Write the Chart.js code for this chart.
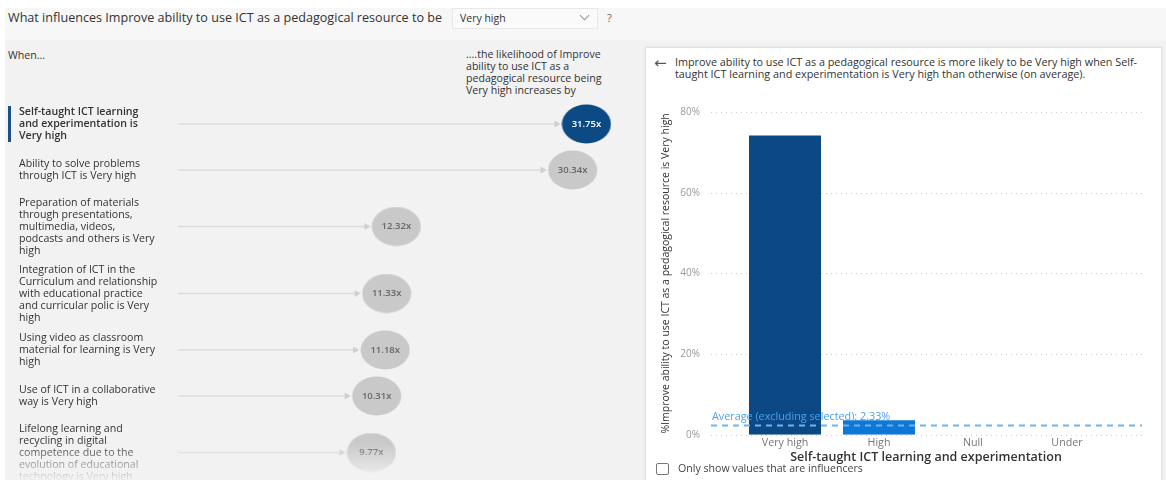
<!DOCTYPE html>
<html>
<head>
<meta charset="utf-8">
<script src="https://cdn.jsdelivr.net/npm/chart.js@4.4.1/dist/chart.umd.min.js"></script>
<style>
  body { margin: 0; width: 1166px; height: 480px; overflow: hidden; background: #fff; position: relative;
         font-family: "Open Sans", "Noto Sans", sans-serif; color: #333; }
  .abs { position: absolute; }
  #frame { left: 5px; top: 8px; right: 0; bottom: 0; background: #f2f2f2; }
  #header { left: 5px; top: 8px; right: 0; height: 32px; background: #f7f7f7; }
  #title { left: 8px; top: 9px; font-size: 12.6px; white-space: nowrap; }
  #dropdown { left: 452px; top: 8px; width: 144px; height: 19px; background: #fafafa; border: 1px solid #e8e8e8; }
  #dropdown span { position: absolute; left: 7px; top: 2px; font-size: 10.5px; }
  #dropdown i { position: absolute; left: 128px; top: 3px; width: 6px; height: 6px; border-right: 1px solid #999; border-bottom: 1px solid #999; transform: rotate(45deg); }
  #help { left: 607px; top: 10px; font-size: 11px; color: #666; }
  #when { left: 8px; top: 48px; font-size: 10.6px; }
  #likely { left: 466px; top: 48px; font-size: 10.6px; line-height: 12px; }
  #fade { left: 8px; top: 442px; width: 632px; height: 38px;
          background: linear-gradient(rgba(242,242,242,0), rgba(242,242,242,0.95)); }
  #card { left: 645px; top: 47px; width: 515px; height: 440px; background: #fff; border: 1px solid #e2e2e2;
          box-shadow: 0 0 3px rgba(0,0,0,0.08); }
  #back { left: 654px; top: 54px; font-size: 15px; color: #555; font-family: "DejaVu Sans", sans-serif; }
  #explain { left: 675px; top: 56px; font-size: 10.8px; line-height: 12px; white-space: nowrap; }
  #check { left: 656px; top: 463px; width: 11px; height: 10px; border: 1.5px solid #777; border-radius: 2px; }
  #checkText { left: 678px; top: 461px; font-size: 10.6px; color: #444; }
  #leftChart { left: 8px; top: 101px; }
  #rightChart { left: 650px; top: 96px; }
</style>
</head>
<body>
<div class="abs" id="frame"></div>
<div class="abs" id="header"></div>
<div class="abs" id="title">What influences Improve ability to use ICT as a pedagogical resource to be</div>
<div class="abs" id="dropdown"><span>Very high</span><i></i></div>
<div class="abs" id="help">?</div>
<div class="abs" id="when">When...</div>
<div class="abs" id="likely">....the likelihood of Improve<br>ability to use ICT as a<br>pedagogical resource being<br>Very high increases by</div>
<canvas class="abs" id="leftChart" width="632" height="379"></canvas>
<div class="abs" id="fade"></div>
<div class="abs" id="card"></div>
<div class="abs" id="back">&#8592;</div>
<div class="abs" id="explain">Improve ability to use ICT as a pedagogical resource is more likely to be Very high when Self-<br>taught ICT learning and experimentation is Very high than otherwise (on average).</div>
<canvas class="abs" id="rightChart" width="510" height="374"></canvas>
<div class="abs" id="check"></div>
<div class="abs" id="checkText">Only show values that are influencers</div>

<script>
// influencers (label lines) and how much each one multiplies the likelihood
const influencers = [
    ['Self-taught ICT learning', 'and experimentation is', 'Very high'],
    ['Ability to solve problems', 'through ICT is Very high'],
    ['Preparation of materials', 'through presentations,', 'multimedia, videos,', 'podcasts and others is Very', 'high'],
    ['Integration of ICT in the', 'Curriculum and relationship', 'with educational practice', 'and curricular polic is Very', 'high'],
    ['Using video as classroom', 'material for learning is Very', 'high'],
    ['Use of ICT in a collaborative', 'way is Very high'],
    ['Lifelong learning and', 'recycling in digital', 'competence due to the', 'evolution of educational', 'technology is Very high']
];
const multipliers = [31.75, 30.34, 12.32, 11.33, 11.18, 10.31, 9.77];

// detail chart for the selected influencer
const valueLevels = ['Very high', 'High', 'Null', 'Under'];
const pctVeryHigh = [74.2, 3.6, 0, 0];
const averageExcluded = 2.33;
const pctTicks = [0, 20, 40, 60, 80];

Chart.defaults.font.family = '"Open Sans", "Noto Sans", sans-serif';

// each row is as tall as its label needs
const lineH = 12;
const rowH = influencers.map(l => Math.max(46, l.length * lineH + 7));
const rowY = [];
let acc = 0;
rowH.forEach(h => { rowY.push(acc + h / 2); acc += h; });

// ellipse markers (the visual is stretched sideways)
function ellipse(color) {
    const c = document.createElement('canvas');
    c.width = 50; c.height = 40;
    const g = c.getContext('2d');
    g.fillStyle = color;
    g.beginPath();
    g.ellipse(25, 20, 24.5, 19.5, 0, 0, Math.PI * 2);
    g.fill();
    return c;
}
const blueDot = ellipse('#0c4a86');
const grayDot = ellipse('#c9c9c9');

// no extra room for first/last tick labels
const noLabelPadding = axis => { axis.paddingTop = 0; axis.paddingBottom = 0; };

const influencerDecor = {
    id: 'influencerDecor',
    beforeDatasetsDraw(chart) {
        const {ctx, chartArea, scales} = chart;
        const meta = chart.getDatasetMeta(0);
        ctx.save();
        meta.data.forEach(pt => {
            const end = pt.x - 25;
            ctx.strokeStyle = '#dcdcdc';
            ctx.lineWidth = 1.5;
            ctx.beginPath();
            ctx.moveTo(chartArea.left, pt.y);
            ctx.lineTo(end - 6, pt.y);
            ctx.stroke();
            ctx.fillStyle = '#cfcfcf';
            ctx.beginPath();
            ctx.moveTo(end - 7, pt.y - 3.5);
            ctx.lineTo(end - 1, pt.y);
            ctx.lineTo(end - 7, pt.y + 3.5);
            ctx.fill();
        });
        // selected row marker
        const y0 = scales.y.getPixelForValue(rowY[0]);
        ctx.fillStyle = '#1b4f8a';
        ctx.fillRect(0, y0 - 18, 3, 36);
        ctx.restore();
    },
    afterDatasetsDraw(chart) {
        const {ctx} = chart;
        const meta = chart.getDatasetMeta(0);
        ctx.save();
        ctx.font = '600 9.5px "Open Sans", sans-serif';
        ctx.textAlign = 'center';
        ctx.textBaseline = 'middle';
        meta.data.forEach((pt, i) => {
            ctx.fillStyle = i === 0 ? '#ffffff' : '#666666';
            ctx.fillText(multipliers[i].toFixed(2) + 'x', pt.x, pt.y);
        });
        ctx.restore();
    }
};

new Chart(document.getElementById('leftChart'), {
    type: 'scatter',
    data: {
        datasets: [{
            data: multipliers.map((v, i) => ({x: v, y: rowY[i]})),
            pointStyle: multipliers.map((v, i) => i === 0 ? blueDot : grayDot),
            pointRadius: 22,
            clip: false
        }]
    },
    options: {
        responsive: false,
        animation: false,
        events: [],
        layout: {autoPadding: false, padding: {left: 11, right: 12, top: 0, bottom: 0}},
        plugins: {legend: {display: false}, tooltip: {enabled: false}},
        scales: {
            x: {type: 'linear', min: -10, max: 36, display: false},
            y: {
                type: 'linear',
                reverse: true,
                min: 0,
                max: 379,
                afterBuildTicks: axis => { axis.ticks = rowY.map(v => ({value: v})); },
                afterFit: axis => { axis.width = 159; noLabelPadding(axis); },
                grid: {display: false, drawTicks: false},
                border: {display: false},
                ticks: {
                    autoSkip: false,
                    crossAlign: 'far',
                    padding: 0,
                    color: '#333',
                    font: c => ({size: 10.6, lineHeight: 12 / 10.6, weight: c.index === 0 ? '600' : 'normal'}),
                    callback: (v, i) => influencers[i]
                }
            }
        }
    },
    plugins: [influencerDecor]
});

const detailDecor = {
    id: 'detailDecor',
    beforeDatasetsDraw(chart) {
        const {ctx, chartArea, scales} = chart;
        ctx.save();
        ctx.strokeStyle = '#cccccc';
        ctx.lineWidth = 1;
        ctx.setLineDash([1, 4]);
        pctTicks.forEach(v => {
            const y = Math.round(scales.y.getPixelForValue(v)) + 0.5;
            ctx.beginPath();
            ctx.moveTo(chartArea.left - 27, y);
            ctx.lineTo(chartArea.right + 28, y);
            ctx.stroke();
        });
        ctx.restore();
    },
    afterDatasetsDraw(chart) {
        const {ctx, chartArea, scales} = chart;
        const y = scales.y.getPixelForValue(averageExcluded);
        ctx.save();
        ctx.strokeStyle = '#6ab5f5';
        ctx.lineWidth = 2;
        ctx.setLineDash([6, 5]);
        ctx.beginPath();
        ctx.moveTo(chartArea.left - 27, y);
        ctx.lineTo(chartArea.right + 28, y);
        ctx.stroke();
        ctx.fillStyle = '#4aa0ee';
        ctx.font = '10.8px "Open Sans", sans-serif';
        ctx.textBaseline = 'middle';
        ctx.fillText('Average (excluding selected): ' + averageExcluded.toFixed(2) + '%', chartArea.left - 26, y - 8);
        ctx.restore();
    }
};

new Chart(document.getElementById('rightChart'), {
    type: 'bar',
    data: {
        labels: valueLevels,
        datasets: [{
            data: pctVeryHigh,
            backgroundColor: ['#0b4884', '#0f77d4', '#0f77d4', '#0f77d4'],
            barPercentage: 0.766,
            categoryPercentage: 1
        }]
    },
    options: {
        responsive: false,
        animation: false,
        events: [],
        layout: {autoPadding: false, padding: {left: 0, right: 46, top: 16, bottom: 6}},
        plugins: {legend: {display: false}, tooltip: {enabled: false}},
        scales: {
            x: {
                grid: {display: false, drawTicks: false},
                border: {display: false},
                ticks: {color: '#777', font: {size: 10.7, lineHeight: 1}, padding: 3},
                title: {
                    display: true,
                    text: 'Self-taught ICT learning and experimentation',
                    color: '#333',
                    font: {size: 12.5, weight: '600', lineHeight: 1},
                    padding: {top: 0, bottom: 0}
                }
            },
            y: {
                min: 0,
                max: 80,
                afterFit: axis => { axis.width = 88; noLabelPadding(axis); },
                grid: {display: false, drawTicks: false},
                border: {display: false},
                ticks: {stepSize: 20, color: '#999', font: {size: 10}, padding: 38, callback: v => v + '%'},
                title: {
                    display: true,
                    text: '%Improve ability to use ICT as a pedagogical resource is Very high',
                    color: '#333',
                    font: {size: 10.5},
                    padding: {top: 10, bottom: 0}
                }
            }
        }
    },
    plugins: [detailDecor]
});
</script>
</body>
</html>
